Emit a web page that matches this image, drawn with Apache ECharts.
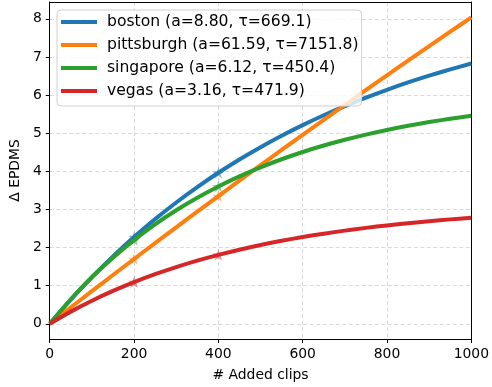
<!DOCTYPE html>
<html>
<head>
<meta charset="utf-8">
<script src="https://cdn.jsdelivr.net/npm/echarts@6/dist/echarts.min.js"></script>
<style>html,body{margin:0;padding:0;background:#fff}#c{width:492px;height:387px}</style>
</head>
<body>
<div id="c"></div>
<script>
const xs = [0,50,100,150,200,250,300,350,400,450,500,550,600,650,700,750,800,850,900,950,1000];
const boston = [0,0.634,1.221,1.767,2.274,2.744,3.180,3.584,3.960,4.308,4.632,4.932,5.210,5.469,5.709,5.931,6.138,6.330,6.507,6.672,6.826];
const pittsburgh = [0,0.429,0.855,1.278,1.699,2.116,2.530,2.942,3.350,3.756,4.159,4.559,4.956,5.351,5.743,6.132,6.518,6.902,7.282,7.661,8.037];
const singapore = [0,0.643,1.219,1.734,2.195,2.607,2.976,3.306,3.602,3.867,4.103,4.315,4.505,4.675,4.826,4.962,5.084,5.193,5.290,5.377,5.455];
const vegas = [0,0.318,0.604,0.861,1.092,1.300,1.487,1.655,1.806,1.942,2.065,2.175,2.274,2.363,2.443,2.515,2.580,2.638,2.691,2.738,2.780];
const seriesNames = ['boston (a=8.80, τ=669.1)','pittsburgh (a=61.59, τ=7151.8)','singapore (a=6.12, τ=450.4)','vegas (a=3.16, τ=471.9)'];
const markerX = [200, 400];
const xTicks = [0,200,400,600,800,1000];
const yTicks = [0,1,2,3,4,5,6,7,8];

const colors = ['#1f77b4','#ff7f0e','#2ca02c','#d62728'];
const allData = [boston, pittsburgh, singapore, vegas];
const star = 'path://M0,-100 L22.45,-30.9 L95.1,-30.9 L36.3,11.8 L58.8,80.9 L0,38.2 L-58.8,80.9 L-36.3,11.8 L-95.1,-30.9 L-22.45,-30.9 Z';
const FONT = 'DejaVu Sans';
const FS = 13.9;
const LFS = 15.6;

const series = [];
allData.forEach((d, i) => {
  series.push({
    type: 'scatter',
    data: markerX.map(x => [x, d[xs.indexOf(x)]]),
    symbol: star, symbolSize: 12, symbolKeepAspect: true,
    itemStyle: {color: colors[i], opacity: 0.5},
    z: 1, silent: true
  });
});
allData.forEach((d, i) => {
  series.push({
    name: seriesNames[i],
    type: 'line',
    data: xs.map((x, j) => [x, d[j]]),
    smooth: 0.3,
    showSymbol: false,
    lineStyle: {color: colors[i], width: 4, cap: 'butt'},
    itemStyle: {color: colors[i]},
    z: 2 + i
  });
});

const hiddenAxis = {
  axisLine: {show: true, onZero: false, lineStyle: {color: '#000', width: 1}},
  axisTick: {show: false}, axisLabel: {show: false}, splitLine: {show: false}
};

const chart = echarts.init(document.getElementById('c'), null, {renderer: 'canvas'});
chart.setOption({
  animation: false,
  backgroundColor: '#fff',
  textStyle: {fontFamily: FONT},
  grid: {left: 48.5, right: 17, top: 2, bottom: 48, show: false},
  legend: {
    left: 57, top: 10, orient: 'vertical',
    data: seriesNames,
    icon: 'rect', itemWidth: 36, itemHeight: 4,
    itemGap: 5,
    padding: [3, 3, 6, 4],
    backgroundColor: 'rgba(255,255,255,0.8)',
    borderColor: '#d0d0d0', borderWidth: 1, borderRadius: 4,
    textStyle: {fontFamily: FONT, fontSize: LFS, color: '#000', lineHeight: 18, padding: [0,0,0,5]},
    selectedMode: false
  },
  xAxis: [{
    type: 'value', min: 0, max: 1000, interval: 200,
    name: '# Added clips', nameLocation: 'middle', nameGap: 29,
    nameTextStyle: {fontFamily: FONT, fontSize: FS, color: '#000'},
    axisLine: {show: true, onZero: false, lineStyle: {color: '#000', width: 1}},
    axisTick: {show: true, inside: false, length: 4, lineStyle: {color: '#000'}},
    axisLabel: {fontFamily: FONT, fontSize: FS, color: '#000', margin: 8, showMinLabel: true, showMaxLabel: true,
      formatter: v => String(v)},
    splitLine: {show: true, lineStyle: {color: '#d9d9d9', type: [4, 2.5], width: 1}}
  }, Object.assign({type: 'value', min: 0, max: 1000, position: 'top'}, hiddenAxis)],
  yAxis: [{
    type: 'value', min: -0.4, max: 8.44,
    name: 'Δ EPDMS', nameLocation: 'middle', nameGap: 21, nameRotate: 90,
    nameTextStyle: {fontFamily: FONT, fontSize: FS, color: '#000'},
    axisLine: {show: true, onZero: false, lineStyle: {color: '#000', width: 1}},
    axisTick: {show: true, inside: false, length: 4, lineStyle: {color: '#000'}, customValues: yTicks},
    axisLabel: {fontFamily: FONT, fontSize: FS, color: '#000', margin: 8, customValues: yTicks},
    splitLine: {show: true, lineStyle: {color: '#d9d9d9', type: [4, 2.5], width: 1}}
  }, Object.assign({type: 'value', min: -0.4, max: 8.44, position: 'right'}, hiddenAxis)],
  series: series
});
</script>
</body>
</html>
